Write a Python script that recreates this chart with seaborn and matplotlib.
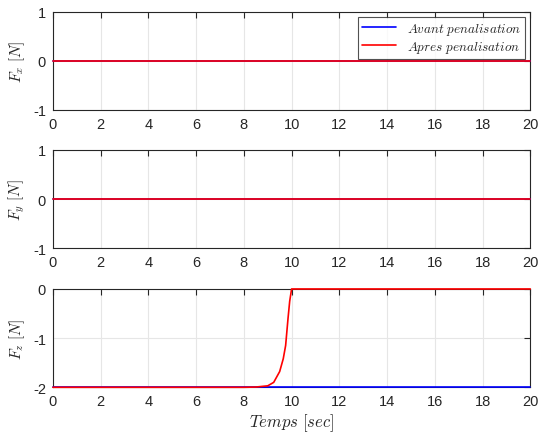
import numpy as np
import pandas as pd
import matplotlib
matplotlib.use('Agg')
import matplotlib.pyplot as plt
import seaborn as sns

# Time axis and forces
t_flat = [0, 20]
fx_avant = [0, 0]
fx_apres = [0, 0]
fy_avant = [0, 0]
fy_apres = [0, 0]
fz_avant = [-2, -2]
t_fz = [0, 8, 8.5, 9, 9.25, 9.5, 9.65, 9.75, 9.85, 9.92, 10, 20]
fz_apres = [-2, -2, -1.995, -1.97, -1.9, -1.68, -1.42, -1.15, -0.6, -0.25, 0, 0]

sns.set_style('white')
plt.rcParams['font.family'] = ['Liberation Sans', 'DejaVu Sans']
plt.rcParams['mathtext.fontset'] = 'cm'
plt.rcParams['axes.unicode_minus'] = False

fig = plt.figure(figsize=(5.4, 4.39), dpi=100)
left, width, height = 0.098, 0.884, 0.224
bottoms = [0.7472, 0.4321, 0.1155]

panels = [
    (t_flat, fx_avant, t_flat, fx_apres, r'$F_x\ [N]$', (-1, 1), [-1, 0, 1]),
    (t_flat, fy_avant, t_flat, fy_apres, r'$F_y\ [N]$', (-1, 1), [-1, 0, 1]),
    (t_flat, fz_avant, t_fz, fz_apres, r'$F_z\ [N]$', (-2, 0), [-2, -1, 0]),
]

axes = []
for i, (ta, ya, tb, yb, lab, ylim, yt) in enumerate(panels):
    ax = fig.add_axes([left, bottoms[i], width, height])
    da = pd.DataFrame({'t': ta, 'f': ya})
    db = pd.DataFrame({'t': tb, 'f': yb})
    sns.lineplot(data=da, x='t', y='f', ax=ax, color='#0000ff', lw=1.2,
                 label=r'$Avant\ penalisation$', zorder=5, clip_on=False)
    sns.lineplot(data=db, x='t', y='f', ax=ax, color='#ff0000', lw=1.2,
                 label=r'$Apres\ penalisation$', zorder=6, clip_on=False)
    ax.set_xlim(0, 20)
    ax.set_ylim(*ylim)
    ax.set_xticks(range(0, 21, 2))
    ax.set_yticks(yt)
    ax.grid(True, color='#e6e6e6', lw=0.8)
    ax.set_axisbelow(True)
    ax.tick_params(direction='in', top=True, right=True, length=4,
                   width=0.8, color='#262626', labelsize=10.5, pad=5)
    for s in ax.spines.values():
        s.set_color('#262626')
        s.set_linewidth(0.8)
    ax.set_ylabel(lab, fontsize=11, labelpad=4)
    ax.set_xlabel('')
    if i == 0:
        leg = ax.legend(loc='upper right', fontsize=9.5, frameon=True,
                        fancybox=False, borderpad=0.3, handlelength=2.6,
                        labelspacing=0.15, borderaxespad=0.4)
        leg.get_frame().set_edgecolor('#262626')
        leg.get_frame().set_linewidth(0.8)
        leg.set_zorder(10)
    else:
        ax.get_legend().remove()
    axes.append(ax)

axes[2].set_xlabel(r'$Temps\ [sec]$', fontsize=12, labelpad=2)

fig.savefig('out.png', dpi=100)
